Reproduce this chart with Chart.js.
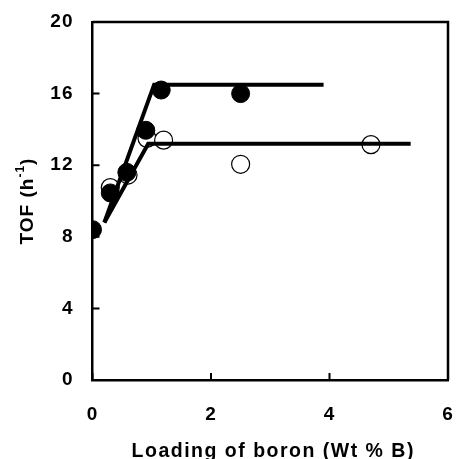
<!DOCTYPE html>
<html lang="en">
<head>
<meta charset="UTF-8">
<title>TOF vs loading of boron</title>
<script src="https://cdn.jsdelivr.net/npm/chart.js@4.4.0/dist/chart.umd.min.js"></script>
<style>
  html, body { margin: 0; padding: 0; background: #fff; }
</style>
</head>
<body>
<canvas id="tofChart" width="458" height="459"></canvas>
<script>
// catalyst series, filled circles
var loadingFilled = [0, 0.3, 0.58, 0.9, 1.16, 2.5];
var tofFilled = [8.4, 10.45, 11.6, 13.95, 16.2, 16.0];
// catalyst series, open circles
var loadingOpen = [0.3, 0.6, 0.92, 1.2, 2.5, 4.7];
var tofOpen = [10.75, 11.45, 13.5, 13.4, 12.05, 13.15];
// trend lines: linear rise then plateau
var trendFilledX = [0.2, 1.04, 3.9];
var trendFilledY = [8.8, 16.5, 16.5];
var trendOpenX = [0.2, 0.94, 5.37];
var trendOpenY = [8.8, 13.2, 13.2];
var xTicks = [0, 2, 4, 6];
var yTicks = [0, 4, 8, 12, 16, 20];

var FONT = '"Liberation Sans", Arial, sans-serif';

function pts(xs, ys) {
    return xs.map(function (x, i) { return { x: x, y: ys[i] }; });
}

// inward tick marks, top/right frame and axis titles
var framePlugin = {
    id: 'frame',
    beforeDraw: function (chart) {
        chart.ctx.letterSpacing = '1px';
    },
    afterDraw: function (chart) {
        var ctx = chart.ctx, a = chart.chartArea;
        var xs = chart.scales.x, ys = chart.scales.y;
        ctx.save();
        ctx.strokeStyle = '#000';
        ctx.lineWidth = 2.5;
        ctx.beginPath();
        ctx.moveTo(a.left, a.top);
        ctx.lineTo(a.right, a.top);
        ctx.lineTo(a.right, a.bottom);
        ctx.stroke();

        ctx.lineWidth = 2;
        ctx.beginPath();
        xTicks.forEach(function (v) {
            var px = xs.getPixelForValue(v);
            ctx.moveTo(px, a.bottom);
            ctx.lineTo(px, a.bottom - 7);
        });
        yTicks.forEach(function (v) {
            var py = ys.getPixelForValue(v);
            ctx.moveTo(a.left, py);
            ctx.lineTo(a.left + 7, py);
        });
        ctx.stroke();

        // x title
        ctx.fillStyle = '#000';
        ctx.font = 'bold 19.5px ' + FONT;
        ctx.letterSpacing = '1.5px';
        ctx.textAlign = 'center';
        ctx.textBaseline = 'alphabetic';
        ctx.fillText('Loading of boron (Wt % B)', (a.left + a.right) / 2 + 3, 457);

        // y title with superscript
        ctx.translate(32.5, (a.top + a.bottom) / 2);
        ctx.rotate(-Math.PI / 2);
        ctx.textAlign = 'left';
        ctx.letterSpacing = '1px';
        var mainFont = 'bold 19px ' + FONT, supFont = 'bold 12px ' + FONT;
        ctx.font = mainFont;
        var w1 = ctx.measureText('TOF (h').width;
        var w3 = ctx.measureText(')').width;
        ctx.font = supFont;
        var w2 = ctx.measureText('-1').width;
        var x0 = -(w1 + w2 + w3) / 2;
        ctx.font = mainFont;
        ctx.fillText('TOF (h', x0, 0);
        ctx.font = supFont;
        ctx.fillText('-1', x0 + w1, -9);
        ctx.font = mainFont;
        ctx.fillText(')', x0 + w1 + w2, 0);
        ctx.restore();
    }
};

new Chart(document.getElementById('tofChart'), {
    type: 'scatter',
    data: {
        datasets: [
            {
                data: pts(trendFilledX, trendFilledY),
                showLine: true,
                borderColor: '#000',
                borderWidth: 4,
                pointRadius: 0,
                order: 0
            },
            {
                data: pts(trendOpenX, trendOpenY),
                showLine: true,
                borderColor: '#000',
                borderWidth: 4,
                pointRadius: 0,
                order: 0
            },
            {
                data: pts(loadingFilled, tofFilled),
                pointRadius: 9,
                pointBackgroundColor: '#000',
                pointBorderColor: '#000',
                pointBorderWidth: 1,
                order: 1
            },
            {
                data: pts(loadingOpen, tofOpen),
                pointRadius: 9,
                pointBackgroundColor: '#fff',
                pointBorderColor: '#000',
                pointBorderWidth: 1.2,
                order: 2
            }
        ]
    },
    options: {
        responsive: false,
        animation: false,
        devicePixelRatio: 1,
        layout: { autoPadding: false, padding: { left: 0, right: 10, top: 22, bottom: 0 } },
        plugins: { legend: { display: false }, tooltip: { enabled: false } },
        scales: {
            x: {
                type: 'linear',
                min: 0,
                max: 6,
                afterBuildTicks: function (s) { s.ticks = xTicks.map(function (v) { return { value: v }; }); },
                afterFit: function (s) { s.height = 79; s.paddingLeft = 0; s.paddingRight = 0; },
                grid: { display: false, drawTicks: false },
                border: { display: true, color: '#000', width: 2.5 },
                ticks: { color: '#000', padding: 23, maxRotation: 0, font: { family: FONT, size: 19, weight: 'bold' } }
            },
            y: {
                type: 'linear',
                min: 0,
                max: 20,
                afterBuildTicks: function (s) { s.ticks = yTicks.map(function (v) { return { value: v }; }); },
                afterFit: function (s) { s.width = 92.5; s.paddingTop = 0; s.paddingBottom = 0; },
                grid: { display: false, drawTicks: false },
                border: { display: true, color: '#000', width: 2.5 },
                ticks: { color: '#000', padding: 19, font: { family: FONT, size: 19, weight: 'bold' } }
            }
        }
    },
    plugins: [framePlugin]
});
</script>
</body>
</html>
